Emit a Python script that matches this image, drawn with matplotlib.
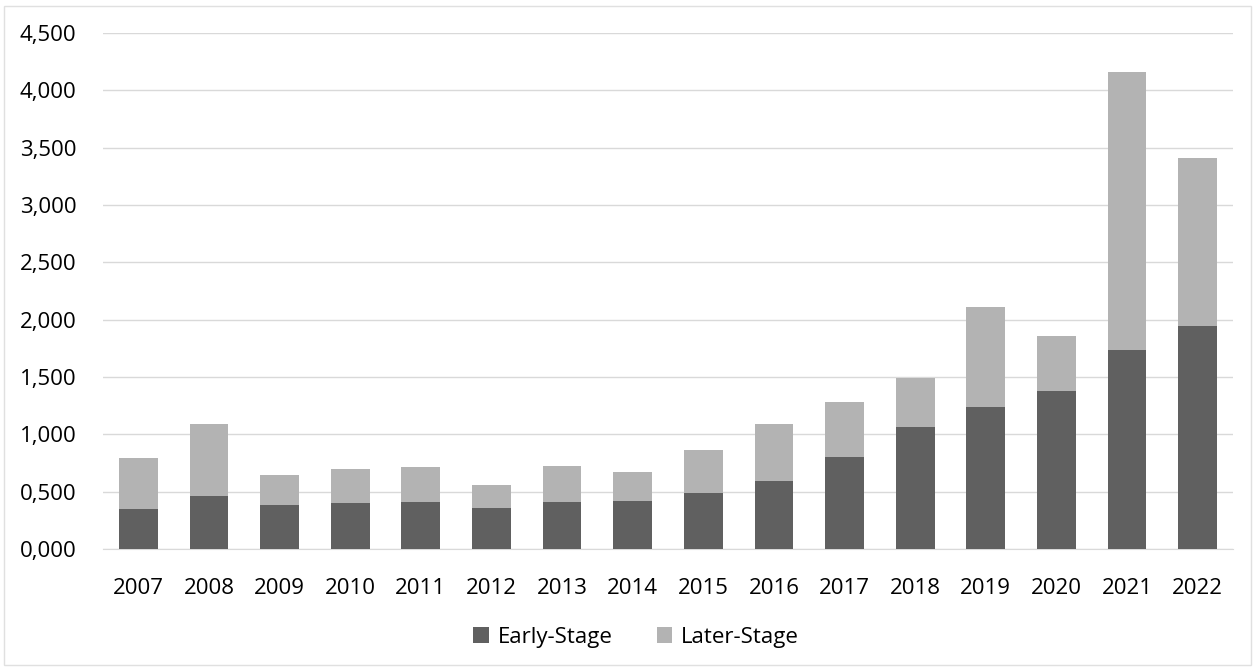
import numpy as np
import matplotlib.pyplot as plt
from matplotlib.ticker import FuncFormatter
from matplotlib.patches import Rectangle

years = ['2007', '2008', '2009', '2010', '2011', '2012', '2013', '2014',
         '2015', '2016', '2017', '2018', '2019', '2020', '2021', '2022']
early = [0.351, 0.458, 0.383, 0.397, 0.406, 0.357, 0.406, 0.415,
         0.490, 0.597, 0.806, 1.063, 1.241, 1.380, 1.739, 1.945]
total = [0.791, 1.093, 0.641, 0.696, 0.713, 0.562, 0.722, 0.672,
         0.864, 1.087, 1.278, 1.495, 2.113, 1.855, 4.157, 3.406]
later = [t - e for t, e in zip(total, early)]

plt.rcParams['font.family'] = ['Open Sans', 'DejaVu Sans']
fs = 16

fig = plt.figure(figsize=(12.55, 6.69), dpi=100)
ax = fig.add_axes([103 / 1255, 1 - 549 / 669, (1233 - 103) / 1255, (549 - 33) / 669])

x = np.arange(len(years))
ax.bar(x, early, width=0.55, color='#606060', label='Early-Stage', zorder=3)
ax.bar(x, later, width=0.55, bottom=early, color='#b3b3b3', label='Later-Stage', zorder=3)

ax.set_xlim(-0.5, len(years) - 0.5)
ax.set_ylim(0, 4.5)
ax.set_yticks(np.arange(0, 4.51, 0.5))
ax.yaxis.set_major_formatter(FuncFormatter(lambda v, p: f'{v:,.3f}'.replace('.', ',')))
ax.set_xticks(x)
ax.set_xticklabels(years)
ax.tick_params(axis='both', length=0, labelsize=fs, colors='#000000')
ax.tick_params(axis='x', pad=21)
ax.tick_params(axis='y', pad=19)
ax.grid(axis='y', color='#d9d9d9', linewidth=1, zorder=0)
for s in ['top', 'right', 'left']:
    ax.spines[s].set_visible(False)
ax.spines['bottom'].set_color('#d9d9d9')

fig.legend(loc='center', bbox_to_anchor=(636 / 1255, 1 - 637 / 669), ncol=2,
           frameon=False, fontsize=fs, handlelength=0.7, handleheight=0.7,
           columnspacing=2.0, handletextpad=0.4)

# light frame round the whole chart
fig.patches.append(Rectangle((4 / 1255, 4 / 669), 1 - 8 / 1255, 1 - 10 / 669,
                             transform=fig.transFigure, fill=False,
                             edgecolor='#e0e0e0', linewidth=1))

fig.savefig('out.png', dpi=100)
